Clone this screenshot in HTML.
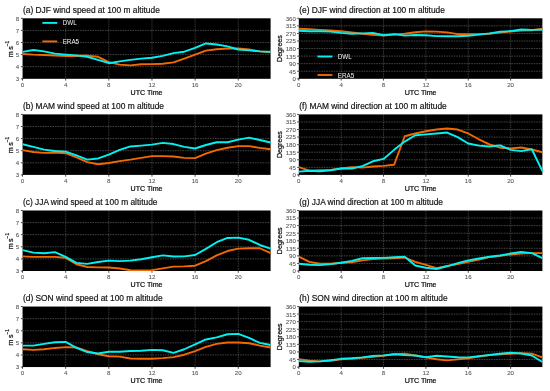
<!DOCTYPE html>
<html><head><meta charset="utf-8"><title>Wind speed and direction at 100 m altitude</title>
<style>
html,body{margin:0;padding:0;background:#fff}
svg{display:block}
text{font-family:"Liberation Sans",Arial,sans-serif;filter:grayscale(1)}
.ttl{font-size:8.38px;fill:#111;stroke:#111;stroke-width:.18px}
.tl{font-size:6.15px;fill:#555;stroke:#555;stroke-width:.08px}
.al{font-size:7.1px;fill:#111;stroke:#111;stroke-width:.24px}
.lg{font-size:6.3px;fill:#f0f0f0}
.grid{stroke:#fff;stroke-opacity:.36;stroke-width:.75;stroke-dasharray:1.5 1;fill:none}
.gv{stroke-opacity:.3}
.tick{stroke:#222;stroke-width:.8;fill:none}
</style></head><body>
<svg width="550" height="391" viewBox="0 0 550 391">
<rect width="550" height="391" fill="#fff"/>
<clipPath id="cpa"><rect x="22.55" y="18.3" width="248.85" height="60.5"/></clipPath>
<rect x="22.55" y="18.3" width="248.05" height="60.5" fill="#000"/>
<path d="M65.69 18.3V78.8M108.83 18.3V78.8M151.97 18.3V78.8M195.11 18.3V78.8M238.25 18.3V78.8" class="grid gv"/>
<path d="M22.55 66.7H270.6M22.55 54.6H270.6M22.55 42.5H270.6M22.55 30.4H270.6" class="grid"/>
<path d="M22.55 78.3v2.3M65.69 78.3v2.3M108.83 78.3v2.3M151.97 78.3v2.3M195.11 78.3v2.3M238.25 78.3v2.3M20.85 78.8h2M20.85 66.7h2M20.85 54.6h2M20.85 42.5h2M20.85 30.4h2M20.85 18.3h2" class="tick"/>
<polyline points="22.55,53.99 33.33,54.6 44.12,54.96 54.9,55.57 65.69,55.93 76.47,55.93 87.26,55.57 98.04,56.78 108.83,62.1 119.61,64.64 130.4,65.37 141.18,64.28 151.97,64.16 162.75,63.8 173.54,62.34 184.32,58.59 195.11,54.6 205.89,50.61 216.68,49.28 227.46,48.55 238.25,48.55 249.03,49.52 259.82,51.33 270.6,52.18" fill="none" stroke="#f36800" stroke-width="1.9" stroke-linejoin="round" clip-path="url(#cpa)"/>
<polyline points="22.55,51.82 33.33,50 44.12,51.33 54.9,53.63 65.69,54.6 76.47,55.33 87.26,56.78 98.04,59.92 108.83,63.19 119.61,61.38 130.4,59.92 141.18,58.59 151.97,57.75 162.75,55.93 173.54,53.15 184.32,51.7 195.11,47.94 205.89,43.47 216.68,44.56 227.46,46.37 238.25,49.52 249.03,50.37 259.82,51.33 270.6,51.82" fill="none" stroke="#00f2f2" stroke-width="1.9" stroke-linejoin="round" clip-path="url(#cpa)"/>
<text x="22.95" y="12.5" class="ttl">(a) DJF wind speed at 100 m altitude</text>
<text x="22.55" y="86.6" class="tl" text-anchor="middle">0</text>
<text x="65.69" y="86.6" class="tl" text-anchor="middle">4</text>
<text x="108.83" y="86.6" class="tl" text-anchor="middle">8</text>
<text x="151.97" y="86.6" class="tl" text-anchor="middle">12</text>
<text x="195.11" y="86.6" class="tl" text-anchor="middle">16</text>
<text x="238.25" y="86.6" class="tl" text-anchor="middle">20</text>
<text x="19.2" y="81.2" class="tl" text-anchor="end">3</text>
<text x="19.2" y="69.1" class="tl" text-anchor="end">4</text>
<text x="19.2" y="57" class="tl" text-anchor="end">5</text>
<text x="19.2" y="44.9" class="tl" text-anchor="end">6</text>
<text x="19.2" y="32.8" class="tl" text-anchor="end">7</text>
<text x="19.2" y="20.7" class="tl" text-anchor="end">8</text>
<text x="146.58" y="94.8" class="al" text-anchor="middle">UTC Time</text>
<text transform="translate(13.05 48.95) rotate(-90)" class="al" text-anchor="middle">m<tspan dx="1.5">s</tspan><tspan dy="-3.9" font-size="4.8">−1</tspan></text>
<path d="M42.35 22.9h14.9" stroke="#00f2f2" stroke-width="1.9" fill="none"/>
<path d="M42.35 41.4h14.9" stroke="#f36800" stroke-width="1.9" fill="none"/>
<text x="62.65" y="25.4" class="lg">DWL</text>
<text x="62.65" y="44" class="lg">ERA5</text>
<clipPath id="cpe"><rect x="298.8" y="18.3" width="244.4" height="60.5"/></clipPath>
<rect x="298.8" y="18.3" width="243.6" height="60.5" fill="#000"/>
<path d="M341.17 18.3V78.8M383.53 18.3V78.8M425.9 18.3V78.8M468.26 18.3V78.8M510.63 18.3V78.8" class="grid gv"/>
<path d="M298.8 71.24H542.4M298.8 63.67H542.4M298.8 56.11H542.4M298.8 48.55H542.4M298.8 40.99H542.4M298.8 33.42H542.4M298.8 25.86H542.4" class="grid"/>
<path d="M298.8 78.3v2.3M341.17 78.3v2.3M383.53 78.3v2.3M425.9 78.3v2.3M468.26 78.3v2.3M510.63 78.3v2.3M297.1 78.8h2M297.1 71.24h2M297.1 63.67h2M297.1 56.11h2M297.1 48.55h2M297.1 40.99h2M297.1 33.42h2M297.1 25.86h2M297.1 18.3h2" class="tick"/>
<polyline points="298.8,28.72 309.39,29.22 319.98,29.9 330.57,30.48 341.17,31.24 351.76,32.42 362.35,33.76 372.94,34.77 383.53,35.61 394.12,34.6 404.71,33.76 415.3,32.25 425.9,31.41 436.49,31.58 447.08,32.42 457.67,34.18 468.26,34.27 478.85,34.1 489.44,33.76 500.03,32.65 510.63,31.58 521.22,30.65 531.81,30.3 542.4,28.72" fill="none" stroke="#f36800" stroke-width="1.9" stroke-linejoin="round" clip-path="url(#cpe)"/>
<polyline points="298.8,30.74 309.39,31.24 319.98,31.24 330.57,31.58 341.17,32.84 351.76,33.76 362.35,33.42 372.94,32.92 383.53,35.19 394.12,34.1 404.71,35.61 415.3,35.02 425.9,35.19 436.49,36.11 447.08,36.28 457.67,36.28 468.26,35.78 478.85,34.6 489.44,33.42 500.03,31.58 510.63,31.07 521.22,29.56 531.81,29.9 542.4,29.73" fill="none" stroke="#00f2f2" stroke-width="1.9" stroke-linejoin="round" clip-path="url(#cpe)"/>
<text x="299.2" y="12.5" class="ttl">(e) DJF wind direction at 100 m altitude</text>
<text x="298.8" y="86.6" class="tl" text-anchor="middle">0</text>
<text x="341.17" y="86.6" class="tl" text-anchor="middle">4</text>
<text x="383.53" y="86.6" class="tl" text-anchor="middle">8</text>
<text x="425.9" y="86.6" class="tl" text-anchor="middle">12</text>
<text x="468.26" y="86.6" class="tl" text-anchor="middle">16</text>
<text x="510.63" y="86.6" class="tl" text-anchor="middle">20</text>
<text x="295.9" y="81.2" class="tl" text-anchor="end">0</text>
<text x="295.9" y="73.64" class="tl" text-anchor="end">45</text>
<text x="295.9" y="66.08" class="tl" text-anchor="end">90</text>
<text x="295.9" y="58.51" class="tl" text-anchor="end">135</text>
<text x="295.9" y="50.95" class="tl" text-anchor="end">180</text>
<text x="295.9" y="43.39" class="tl" text-anchor="end">225</text>
<text x="295.9" y="35.82" class="tl" text-anchor="end">270</text>
<text x="295.9" y="28.26" class="tl" text-anchor="end">315</text>
<text x="295.9" y="20.7" class="tl" text-anchor="end">360</text>
<text x="420.6" y="94.8" class="al" text-anchor="middle">UTC Time</text>
<text transform="translate(282.1 48.55) rotate(-90)" class="al" text-anchor="middle">Degrees</text>
<path d="M317.5 56.5h14.9" stroke="#00f2f2" stroke-width="1.9" fill="none"/>
<path d="M317.5 75h14.9" stroke="#f36800" stroke-width="1.9" fill="none"/>
<text x="337.8" y="59" class="lg">DWL</text>
<text x="337.8" y="77.6" class="lg">ERA5</text>
<clipPath id="cpb"><rect x="22.55" y="114.4" width="248.85" height="60.5"/></clipPath>
<rect x="22.55" y="114.4" width="248.05" height="60.5" fill="#000"/>
<path d="M65.69 114.4V174.9M108.83 114.4V174.9M151.97 114.4V174.9M195.11 114.4V174.9M238.25 114.4V174.9" class="grid gv"/>
<path d="M22.55 162.8H270.6M22.55 150.7H270.6M22.55 138.6H270.6M22.55 126.5H270.6" class="grid"/>
<path d="M22.55 174.4v2.3M65.69 174.4v2.3M108.83 174.4v2.3M151.97 174.4v2.3M195.11 174.4v2.3M238.25 174.4v2.3M20.85 174.9h2M20.85 162.8h2M20.85 150.7h2M20.85 138.6h2M20.85 126.5h2M20.85 114.4h2" class="tick"/>
<polyline points="22.55,150.09 33.33,152.03 44.12,152.88 54.9,152.52 65.69,153.24 76.47,157.48 87.26,162.07 98.04,164.25 108.83,163.04 119.61,161.11 130.4,159.65 141.18,157.84 151.97,156.15 162.75,156.15 173.54,156.51 184.32,157.84 195.11,158.08 205.89,153.6 216.68,150.09 227.46,147.8 238.25,146.1 249.03,146.1 259.82,147.92 270.6,149.25" fill="none" stroke="#f36800" stroke-width="1.9" stroke-linejoin="round" clip-path="url(#cpb)"/>
<polyline points="22.55,144.29 33.33,146.83 44.12,149.61 54.9,151.06 65.69,151.67 76.47,155.3 87.26,159.65 98.04,158.44 108.83,154.69 119.61,149.97 130.4,146.47 141.18,145.62 151.97,144.65 162.75,142.84 173.54,144.05 184.32,146.83 195.11,148.52 205.89,145.01 216.68,142.23 227.46,142.23 238.25,139.57 249.03,137.63 259.82,140.05 270.6,142.47" fill="none" stroke="#00f2f2" stroke-width="1.9" stroke-linejoin="round" clip-path="url(#cpb)"/>
<text x="22.95" y="108.6" class="ttl">(b) MAM wind speed at 100 m altitude</text>
<text x="22.55" y="182.7" class="tl" text-anchor="middle">0</text>
<text x="65.69" y="182.7" class="tl" text-anchor="middle">4</text>
<text x="108.83" y="182.7" class="tl" text-anchor="middle">8</text>
<text x="151.97" y="182.7" class="tl" text-anchor="middle">12</text>
<text x="195.11" y="182.7" class="tl" text-anchor="middle">16</text>
<text x="238.25" y="182.7" class="tl" text-anchor="middle">20</text>
<text x="19.2" y="177.3" class="tl" text-anchor="end">3</text>
<text x="19.2" y="165.2" class="tl" text-anchor="end">4</text>
<text x="19.2" y="153.1" class="tl" text-anchor="end">5</text>
<text x="19.2" y="141" class="tl" text-anchor="end">6</text>
<text x="19.2" y="128.9" class="tl" text-anchor="end">7</text>
<text x="19.2" y="116.8" class="tl" text-anchor="end">8</text>
<text x="146.58" y="190.9" class="al" text-anchor="middle">UTC Time</text>
<text transform="translate(13.05 145.05) rotate(-90)" class="al" text-anchor="middle">m<tspan dx="1.5">s</tspan><tspan dy="-3.9" font-size="4.8">−1</tspan></text>
<clipPath id="cpf"><rect x="298.8" y="114.4" width="244.4" height="60.5"/></clipPath>
<rect x="298.8" y="114.4" width="243.6" height="60.5" fill="#000"/>
<path d="M341.17 114.4V174.9M383.53 114.4V174.9M425.9 114.4V174.9M468.26 114.4V174.9M510.63 114.4V174.9" class="grid gv"/>
<path d="M298.8 167.34H542.4M298.8 159.78H542.4M298.8 152.21H542.4M298.8 144.65H542.4M298.8 137.09H542.4M298.8 129.53H542.4M298.8 121.96H542.4" class="grid"/>
<path d="M298.8 174.4v2.3M341.17 174.4v2.3M383.53 174.4v2.3M425.9 174.4v2.3M468.26 174.4v2.3M510.63 174.4v2.3M297.1 174.9h2M297.1 167.34h2M297.1 159.78h2M297.1 152.21h2M297.1 144.65h2M297.1 137.09h2M297.1 129.53h2M297.1 121.96h2M297.1 114.4h2" class="tick"/>
<polyline points="298.8,167.09 309.39,170.7 319.98,170.19 330.57,169.86 341.17,168.51 351.76,167.09 362.35,167.67 372.94,166.5 383.53,165.83 394.12,164.73 404.71,136.25 415.3,133.47 425.9,131.29 436.49,129.53 447.08,128.52 457.67,129.53 468.26,133.47 478.85,139.27 489.44,144.38 500.03,147.68 510.63,148.35 521.22,147.51 531.81,149.52 542.4,152.21" fill="none" stroke="#f36800" stroke-width="1.9" stroke-linejoin="round" clip-path="url(#cpf)"/>
<polyline points="298.8,171.62 309.39,170.7 319.98,171.27 330.57,170.19 341.17,168.51 351.76,168.51 362.35,166.16 372.94,161.29 383.53,158.93 394.12,149.86 404.71,141.62 415.3,135.24 425.9,134.4 436.49,133.47 447.08,132.55 457.67,137.09 468.26,143.47 478.85,145.66 489.44,146.55 500.03,145.32 510.63,149.86 521.22,151.1 531.81,149.27 542.4,171.2" fill="none" stroke="#00f2f2" stroke-width="1.9" stroke-linejoin="round" clip-path="url(#cpf)"/>
<text x="299.2" y="108.6" class="ttl">(f) MAM wind direction at 100 m altitude</text>
<text x="298.8" y="182.7" class="tl" text-anchor="middle">0</text>
<text x="341.17" y="182.7" class="tl" text-anchor="middle">4</text>
<text x="383.53" y="182.7" class="tl" text-anchor="middle">8</text>
<text x="425.9" y="182.7" class="tl" text-anchor="middle">12</text>
<text x="468.26" y="182.7" class="tl" text-anchor="middle">16</text>
<text x="510.63" y="182.7" class="tl" text-anchor="middle">20</text>
<text x="295.9" y="177.3" class="tl" text-anchor="end">0</text>
<text x="295.9" y="169.74" class="tl" text-anchor="end">45</text>
<text x="295.9" y="162.18" class="tl" text-anchor="end">90</text>
<text x="295.9" y="154.61" class="tl" text-anchor="end">135</text>
<text x="295.9" y="147.05" class="tl" text-anchor="end">180</text>
<text x="295.9" y="139.49" class="tl" text-anchor="end">225</text>
<text x="295.9" y="131.93" class="tl" text-anchor="end">270</text>
<text x="295.9" y="124.36" class="tl" text-anchor="end">315</text>
<text x="295.9" y="116.8" class="tl" text-anchor="end">360</text>
<text x="420.6" y="190.9" class="al" text-anchor="middle">UTC Time</text>
<text transform="translate(282.1 144.65) rotate(-90)" class="al" text-anchor="middle">Degrees</text>
<clipPath id="cpc"><rect x="22.55" y="210.5" width="248.85" height="60.5"/></clipPath>
<rect x="22.55" y="210.5" width="248.05" height="60.5" fill="#000"/>
<path d="M65.69 210.5V271M108.83 210.5V271M151.97 210.5V271M195.11 210.5V271M238.25 210.5V271" class="grid gv"/>
<path d="M22.55 258.9H270.6M22.55 246.8H270.6M22.55 234.7H270.6M22.55 222.6H270.6" class="grid"/>
<path d="M22.55 270.5v2.3M65.69 270.5v2.3M108.83 270.5v2.3M151.97 270.5v2.3M195.11 270.5v2.3M238.25 270.5v2.3M20.85 271h2M20.85 258.9h2M20.85 246.8h2M20.85 234.7h2M20.85 222.6h2M20.85 210.5h2" class="tick"/>
<polyline points="22.55,256.36 33.33,256.84 44.12,256.84 54.9,256.84 65.69,257.81 76.47,264.22 87.26,267.01 98.04,267.37 108.83,267.49 119.61,268.46 130.4,270.27 141.18,270.39 151.97,270.15 162.75,268.34 173.54,266.64 184.32,266.4 195.11,265.68 205.89,261.2 216.68,255.39 227.46,251.03 238.25,248.62 249.03,248.25 259.82,248.25 270.6,253.21" fill="none" stroke="#f36800" stroke-width="1.9" stroke-linejoin="round" clip-path="url(#cpc)"/>
<polyline points="22.55,250.07 33.33,252.61 44.12,253.21 54.9,252.12 65.69,256.84 76.47,262.89 87.26,263.86 98.04,262.05 108.83,260.59 119.61,261.08 130.4,260.59 141.18,259.26 151.97,257.21 162.75,255.39 173.54,256.48 184.32,256.36 195.11,255.03 205.89,248.86 216.68,242.2 227.46,237.97 238.25,237.6 249.03,239.78 259.82,244.98 270.6,248.62" fill="none" stroke="#00f2f2" stroke-width="1.9" stroke-linejoin="round" clip-path="url(#cpc)"/>
<text x="22.95" y="204.7" class="ttl">(c) JJA wind speed at 100 m altitude</text>
<text x="22.55" y="278.8" class="tl" text-anchor="middle">0</text>
<text x="65.69" y="278.8" class="tl" text-anchor="middle">4</text>
<text x="108.83" y="278.8" class="tl" text-anchor="middle">8</text>
<text x="151.97" y="278.8" class="tl" text-anchor="middle">12</text>
<text x="195.11" y="278.8" class="tl" text-anchor="middle">16</text>
<text x="238.25" y="278.8" class="tl" text-anchor="middle">20</text>
<text x="19.2" y="273.4" class="tl" text-anchor="end">3</text>
<text x="19.2" y="261.3" class="tl" text-anchor="end">4</text>
<text x="19.2" y="249.2" class="tl" text-anchor="end">5</text>
<text x="19.2" y="237.1" class="tl" text-anchor="end">6</text>
<text x="19.2" y="225" class="tl" text-anchor="end">7</text>
<text x="19.2" y="212.9" class="tl" text-anchor="end">8</text>
<text x="146.58" y="287" class="al" text-anchor="middle">UTC Time</text>
<text transform="translate(13.05 241.15) rotate(-90)" class="al" text-anchor="middle">m<tspan dx="1.5">s</tspan><tspan dy="-3.9" font-size="4.8">−1</tspan></text>
<clipPath id="cpg"><rect x="298.8" y="210.5" width="244.4" height="60.5"/></clipPath>
<rect x="298.8" y="210.5" width="243.6" height="60.5" fill="#000"/>
<path d="M341.17 210.5V271M383.53 210.5V271M425.9 210.5V271M468.26 210.5V271M510.63 210.5V271" class="grid gv"/>
<path d="M298.8 263.44H542.4M298.8 255.88H542.4M298.8 248.31H542.4M298.8 240.75H542.4M298.8 233.19H542.4M298.8 225.62H542.4M298.8 218.06H542.4" class="grid"/>
<path d="M298.8 270.5v2.3M341.17 270.5v2.3M383.53 270.5v2.3M425.9 270.5v2.3M468.26 270.5v2.3M510.63 270.5v2.3M297.1 271h2M297.1 263.44h2M297.1 255.88h2M297.1 248.31h2M297.1 240.75h2M297.1 233.19h2M297.1 225.62h2M297.1 218.06h2M297.1 210.5h2" class="tick"/>
<polyline points="298.8,256.72 309.39,261.93 319.98,263.69 330.57,263.69 341.17,262.77 351.76,262.26 362.35,260.41 372.94,259.12 383.53,258.56 394.12,258.4 404.71,257.66 415.3,261.86 425.9,264.95 436.49,268.08 447.08,265.87 457.67,264.11 468.26,261.86 478.85,259.49 489.44,257.1 500.03,255.88 510.63,254.53 521.22,253.45 531.81,253.09 542.4,253.09" fill="none" stroke="#f36800" stroke-width="1.9" stroke-linejoin="round" clip-path="url(#cpg)"/>
<polyline points="298.8,263.69 309.39,264.78 319.98,265.12 330.57,264.11 341.17,262.77 351.76,260.92 362.35,258.23 372.94,258.06 383.53,257.89 394.12,257.29 404.71,256.72 415.3,265.52 425.9,267.71 436.49,268.98 447.08,266.29 457.67,263.13 468.26,260.41 478.85,258.56 489.44,256.72 500.03,255.45 510.63,253.52 521.22,251.84 531.81,253.09 542.4,258.06" fill="none" stroke="#00f2f2" stroke-width="1.9" stroke-linejoin="round" clip-path="url(#cpg)"/>
<text x="299.2" y="204.7" class="ttl">(g) JJA wind direction at 100 m altitude</text>
<text x="298.8" y="278.8" class="tl" text-anchor="middle">0</text>
<text x="341.17" y="278.8" class="tl" text-anchor="middle">4</text>
<text x="383.53" y="278.8" class="tl" text-anchor="middle">8</text>
<text x="425.9" y="278.8" class="tl" text-anchor="middle">12</text>
<text x="468.26" y="278.8" class="tl" text-anchor="middle">16</text>
<text x="510.63" y="278.8" class="tl" text-anchor="middle">20</text>
<text x="295.9" y="273.4" class="tl" text-anchor="end">0</text>
<text x="295.9" y="265.84" class="tl" text-anchor="end">45</text>
<text x="295.9" y="258.27" class="tl" text-anchor="end">90</text>
<text x="295.9" y="250.71" class="tl" text-anchor="end">135</text>
<text x="295.9" y="243.15" class="tl" text-anchor="end">180</text>
<text x="295.9" y="235.59" class="tl" text-anchor="end">225</text>
<text x="295.9" y="228.03" class="tl" text-anchor="end">270</text>
<text x="295.9" y="220.46" class="tl" text-anchor="end">315</text>
<text x="295.9" y="212.9" class="tl" text-anchor="end">360</text>
<text x="420.6" y="287" class="al" text-anchor="middle">UTC Time</text>
<text transform="translate(282.1 240.75) rotate(-90)" class="al" text-anchor="middle">Degrees</text>
<clipPath id="cpd"><rect x="22.55" y="306.55" width="248.85" height="60.5"/></clipPath>
<rect x="22.55" y="306.55" width="248.05" height="60.5" fill="#000"/>
<path d="M65.69 306.55V367.05M108.83 306.55V367.05M151.97 306.55V367.05M195.11 306.55V367.05M238.25 306.55V367.05" class="grid gv"/>
<path d="M22.55 354.95H270.6M22.55 342.85H270.6M22.55 330.75H270.6M22.55 318.65H270.6" class="grid"/>
<path d="M22.55 366.55v2.3M65.69 366.55v2.3M108.83 366.55v2.3M151.97 366.55v2.3M195.11 366.55v2.3M238.25 366.55v2.3M20.85 367.05h2M20.85 354.95h2M20.85 342.85h2M20.85 330.75h2M20.85 318.65h2M20.85 306.55h2" class="tick"/>
<polyline points="22.55,349.26 33.33,349.87 44.12,349.26 54.9,347.93 65.69,347.09 76.47,347.45 87.26,351.08 98.04,354.22 108.83,356.28 119.61,356.64 130.4,358.46 141.18,358.82 151.97,358.82 162.75,358.1 173.54,357.13 184.32,354.71 195.11,351.08 205.89,346.84 216.68,343.82 227.46,342.49 238.25,342.49 249.03,343.21 259.82,345.63 270.6,347.45" fill="none" stroke="#f36800" stroke-width="1.9" stroke-linejoin="round" clip-path="url(#cpd)"/>
<polyline points="22.55,345.63 33.33,345.63 44.12,343.82 54.9,342.25 65.69,341.88 76.47,347.81 87.26,352.05 98.04,353.5 108.83,351.8 119.61,351.68 130.4,350.96 141.18,350.72 151.97,349.87 162.75,350.23 173.54,352.89 184.32,349.26 195.11,344.3 205.89,339.46 216.68,337.41 227.46,334.26 238.25,333.9 249.03,337.89 259.82,342.85 270.6,345.03" fill="none" stroke="#00f2f2" stroke-width="1.9" stroke-linejoin="round" clip-path="url(#cpd)"/>
<text x="22.95" y="300.75" class="ttl">(d) SON wind speed at 100 m altitude</text>
<text x="22.55" y="374.85" class="tl" text-anchor="middle">0</text>
<text x="65.69" y="374.85" class="tl" text-anchor="middle">4</text>
<text x="108.83" y="374.85" class="tl" text-anchor="middle">8</text>
<text x="151.97" y="374.85" class="tl" text-anchor="middle">12</text>
<text x="195.11" y="374.85" class="tl" text-anchor="middle">16</text>
<text x="238.25" y="374.85" class="tl" text-anchor="middle">20</text>
<text x="19.2" y="369.45" class="tl" text-anchor="end">3</text>
<text x="19.2" y="357.35" class="tl" text-anchor="end">4</text>
<text x="19.2" y="345.25" class="tl" text-anchor="end">5</text>
<text x="19.2" y="333.15" class="tl" text-anchor="end">6</text>
<text x="19.2" y="321.05" class="tl" text-anchor="end">7</text>
<text x="19.2" y="308.95" class="tl" text-anchor="end">8</text>
<text x="146.58" y="383.05" class="al" text-anchor="middle">UTC Time</text>
<text transform="translate(13.05 337.2) rotate(-90)" class="al" text-anchor="middle">m<tspan dx="1.5">s</tspan><tspan dy="-3.9" font-size="4.8">−1</tspan></text>
<clipPath id="cph"><rect x="298.8" y="306.55" width="244.4" height="60.5"/></clipPath>
<rect x="298.8" y="306.55" width="243.6" height="60.5" fill="#000"/>
<path d="M341.17 306.55V367.05M383.53 306.55V367.05M425.9 306.55V367.05M468.26 306.55V367.05M510.63 306.55V367.05" class="grid gv"/>
<path d="M298.8 359.49H542.4M298.8 351.93H542.4M298.8 344.36H542.4M298.8 336.8H542.4M298.8 329.24H542.4M298.8 321.68H542.4M298.8 314.11H542.4" class="grid"/>
<path d="M298.8 366.55v2.3M341.17 366.55v2.3M383.53 366.55v2.3M425.9 366.55v2.3M468.26 366.55v2.3M510.63 366.55v2.3M297.1 367.05h2M297.1 359.49h2M297.1 351.93h2M297.1 344.36h2M297.1 336.8h2M297.1 329.24h2M297.1 321.68h2M297.1 314.11h2M297.1 306.55h2" class="tick"/>
<polyline points="298.8,359.19 309.39,360.66 319.98,361.39 330.57,360.83 341.17,359.37 351.76,358.48 362.35,357.72 372.94,356.8 383.53,355.72 394.12,354.28 404.71,353.71 415.3,355.54 425.9,357.37 436.49,359.19 447.08,360.33 457.67,359.37 468.26,358.31 478.85,356.46 489.44,355.17 500.03,354.28 510.63,353.71 521.22,353.15 531.81,353.71 542.4,357.47" fill="none" stroke="#f36800" stroke-width="1.9" stroke-linejoin="round" clip-path="url(#cph)"/>
<polyline points="298.8,361.17 309.39,361.76 319.98,361.39 330.57,360.16 341.17,358.82 351.76,358.31 362.35,357.37 372.94,355.87 383.53,355.35 394.12,354.28 404.71,355.17 415.3,355.54 425.9,357.19 436.49,355.72 447.08,356.46 457.67,357.19 468.26,357.37 478.85,356.13 489.44,354.98 500.03,353.71 510.63,352.77 521.22,353.52 531.81,355.54 542.4,362.01" fill="none" stroke="#00f2f2" stroke-width="1.9" stroke-linejoin="round" clip-path="url(#cph)"/>
<text x="299.2" y="300.75" class="ttl">(h) SON wind direction at 100 m altitude</text>
<text x="298.8" y="374.85" class="tl" text-anchor="middle">0</text>
<text x="341.17" y="374.85" class="tl" text-anchor="middle">4</text>
<text x="383.53" y="374.85" class="tl" text-anchor="middle">8</text>
<text x="425.9" y="374.85" class="tl" text-anchor="middle">12</text>
<text x="468.26" y="374.85" class="tl" text-anchor="middle">16</text>
<text x="510.63" y="374.85" class="tl" text-anchor="middle">20</text>
<text x="295.9" y="369.45" class="tl" text-anchor="end">0</text>
<text x="295.9" y="361.89" class="tl" text-anchor="end">45</text>
<text x="295.9" y="354.32" class="tl" text-anchor="end">90</text>
<text x="295.9" y="346.76" class="tl" text-anchor="end">135</text>
<text x="295.9" y="339.2" class="tl" text-anchor="end">180</text>
<text x="295.9" y="331.64" class="tl" text-anchor="end">225</text>
<text x="295.9" y="324.07" class="tl" text-anchor="end">270</text>
<text x="295.9" y="316.51" class="tl" text-anchor="end">315</text>
<text x="295.9" y="308.95" class="tl" text-anchor="end">360</text>
<text x="420.6" y="383.05" class="al" text-anchor="middle">UTC Time</text>
<text transform="translate(282.1 336.8) rotate(-90)" class="al" text-anchor="middle">Degrees</text>
</svg>
</body></html>
